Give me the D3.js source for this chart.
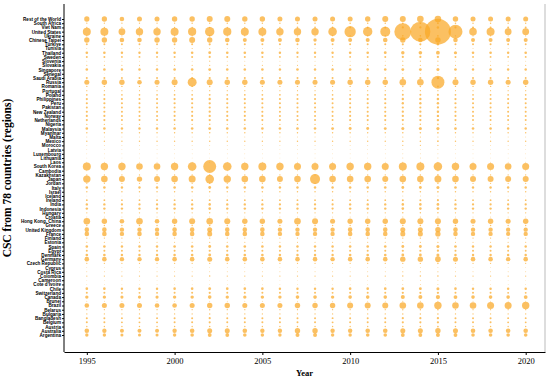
<!DOCTYPE html>
<html>
<head>
<meta charset="utf-8">
<script src="https://cdn.jsdelivr.net/npm/d3@7"></script>
<style>
  body { margin: 0; background: #fff; }
  svg { display: block; }
</style>
</head>
<body>
<svg id="drawing_region"></svg>
<script>
// countries, top to bottom
const countries = [
  "Rest of the World","South Africa","Viet Nam","United States","Ukraine","Chinese Taipei","Türkiye","Tunisia",
  "Thailand","Sweden","Slovenia","Slovakia","Singapore","Senegal","Saudi Arabia","Russia","Romania","Portugal",
  "Poland","Philippines","Peru","Pakistan","New Zealand","Norway","Netherlands","Nigeria","Malaysia","Myanmar",
  "Malta","Mexico","Morocco","Latvia","Luxembourg","Lithuania","Laos","South Korea","Cambodia","Kazakhstan",
  "Japan","Jordan","Italy","Israel","Iceland","Ireland","India","Indonesia","Hungary","Croatia","Hong Kong, China",
  "Greece","United Kingdom","France","Finland","Estonia","Spain","Egypt","Denmark","Germany","Czech Republic",
  "Cyprus","Costa Rica","Colombia","Cameroon","Cote d'Ivoire","Chile","Switzerland","Canada","Brunei","Brazil",
  "Belarus","Bulgaria","Bangladesh","Belgium","Austria","Australia","Argentina"
];

const years = [1995,1996,1997,1998,1999,2000,2001,2002,2003,2004,2005,2006,2007,
               2008,2009,2010,2011,2012,2013,2014,2015,2016,2017,2018,2019,2020];

const yearTicks = [1995, 2000, 2005, 2010, 2015, 2020];

// CSC per country and year (one row per country, same order as countries)
const csc = [
  [7,7,5.3,6.3,6.3,7.3,7.3,9,9,7.3,7.3,6.3,6.3,6.3,6.3,6.3,7.3,9,9,11,11,7.3,6.3,6.3,6.3,6.3],
  [.4,.4,.4,.4,.4,.4,.5,.5,.5,.5,.5,.5,.6,.6,.5,.6,.6,.6,.7,.7,.8,.6,.5,.5,.5,.5],
  [.4,.4,.4,.4,.4,.4,.5,.5,.5,.5,.6,.6,.7,.7,.7,.8,.9,1,1.2,1.3,1.5,1.2,1,1,1,1],
  [16,16,11.6,13.7,13.7,16,16.8,22,16.8,16,16,13.7,13.7,13.7,18.5,32,22,25,72,100,169,49,14.4,16,11.6,11.6],
  [.5,.5,.4,.4,.4,.5,.5,.6,.5,.5,.5,.5,.5,.5,.4,.5,.5,.5,.6,.6,.7,.5,.5,.5,.4,.4],
  [7.3,7.3,5.3,5.3,7.3,7.3,9,7.3,5.3,4,4,4,5.3,2.9,4,4,4,5.3,7.3,5.3,7.3,5.3,4,4,4,4],
  [1,1,.9,.9,.9,1,1,1.2,1,1,1,1,1,1,.9,1,1,1,1.2,1.2,1.4,1,1,1,.9,.9],
  [.2,.2,.2,.2,.2,.2,.3,.3,.2,.2,.2,.2,.2,.2,.2,.2,.2,.2,.3,.3,.3,.2,.2,.2,.2,.2],
  [1.7,1.7,1.5,1.5,1.5,1.7,1.7,2,1.7,1.7,1.7,1.5,1.5,1.5,1.5,1.7,1.7,2,3,3.2,3.6,2.5,1.7,1.7,1.5,1.7],
  [1,1,.9,.9,.9,1,1,1.1,1,1,1,.9,.9,.9,.8,.9,1,1,1.2,1.2,1.3,1,.9,.9,.9,.9],
  [.2,.2,.2,.2,.2,.2,.2,.3,.2,.2,.2,.2,.2,.2,.2,.2,.2,.2,.3,.3,.3,.2,.2,.2,.2,.2],
  [.3,.3,.3,.3,.3,.3,.3,.4,.3,.3,.3,.3,.3,.3,.3,.3,.3,.3,.4,.4,.4,.3,.3,.3,.3,.3],
  [1.7,1.7,1.5,1.5,1.5,1.7,1.7,2,1.7,1.7,1.7,1.5,1.7,1.5,1.5,1.7,1.7,1.7,2,2,2.3,1.7,1.5,1.5,1.5,1.5],
  [.1,.1,.1,.1,.1,.1,.2,.2,.1,.1,.1,.1,.1,.1,.1,.1,.1,.1,.2,.2,.2,.1,.1,.1,.1,.1],
  [1,1,.9,.9,.9,1,1,1.2,1.1,1,1,1,1,1,1,1,1,1,1.2,1.2,1.4,1,1,1,.9,.9],
  [6.3,7.3,7.3,5.3,6.3,9,20,9,7.3,7.3,6.3,6.3,6.3,6.3,6.3,7.3,7.3,7.3,11,11,42,9,7.3,7.3,6.3,7.3],
  [.5,.5,.5,.4,.4,.5,.5,.6,.5,.5,.5,.5,.5,.5,.4,.5,.5,.5,.6,.6,.7,.5,.5,.5,.5,.5],
  [.3,.3,.3,.3,.3,.3,.3,.4,.3,.3,.3,.3,.3,.3,.3,.3,.3,.3,.4,.4,.4,.3,.3,.3,.3,.3],
  [.8,.8,.7,.7,.7,.8,.8,.9,.8,.8,.8,.8,.8,.8,.7,.8,.8,.8,1,1,1.1,.8,.8,.8,.7,.7],
  [1.2,1.2,1.1,1.1,1.1,1.2,1.2,1.4,1.2,1.2,1.2,1.1,1.1,1.1,1,1.2,1.2,1.2,1.4,1.4,1.6,1.2,1.1,1.1,1.1,1.1],
  [1.2,1.2,1.1,1,1,1.2,1.2,1.3,1.2,1.1,1.1,1.1,1.1,1.1,1,1.1,1.2,1.2,1.4,1.4,1.5,1.2,1.1,1.1,1,1],
  [1,1,.9,.9,.9,1,1,1.2,1,1,1,1,1,1,.9,1,1,1,1.2,1.2,1.3,1,1,1,.9,.9],
  [1.1,1.1,1,1,1,1.1,1.1,1.3,1.1,1.1,1.1,1,1,1,1,1.1,1.1,1.1,1.3,1.3,1.5,1.1,1,1,1,1],
  [1.1,1.1,1,1,1,1.1,1.1,1.3,1.1,1.1,1.1,1,1,1,1,1.1,1.1,1.1,1.3,1.3,1.4,1.1,1,1,1,1],
  [1.1,1.1,1,1,1,1.1,1.2,1.3,1.2,1.1,1.1,1,1,1,1,1.1,1.1,1.1,1.3,1.3,1.5,1.1,1,1,1,1],
  [.5,.5,.5,.4,.4,.5,.5,.6,.5,.5,.5,.5,.5,.5,.4,.5,.5,.5,.6,.6,.7,.5,.5,.5,.5,.5],
  [1.7,1.7,1.5,1.5,1.5,1.7,1.7,2,1.7,1.7,1.7,1.7,1.7,1.7,2,2.2,2.2,2,2.3,2.3,2.5,1.8,1.7,1.7,1.5,1.5],
  [.5,.5,.5,.5,.5,.5,.5,.6,.5,.5,.5,.5,.5,.5,.5,.5,.5,.5,.6,.6,.7,.5,.5,.5,.5,.5],
  [.2,.2,.2,.2,.2,.2,.2,.2,.2,.2,.2,.2,.2,.2,.2,.2,.2,.2,.3,.3,.3,.2,.2,.2,.2,.2],
  [.5,.5,.5,.5,.5,.5,.5,.6,.5,.5,.5,.5,.5,.5,.5,.5,.5,.5,.6,.6,.7,.5,.5,.5,.5,.5],
  [.2,.2,.2,.2,.2,.2,.2,.2,.2,.2,.2,.2,.2,.2,.2,.2,.2,.2,.3,.3,.3,.2,.2,.2,.2,.2],
  [.1,.1,.1,.1,.1,.1,.1,.1,.1,.1,.1,.1,.1,.1,.1,.1,.1,.1,.2,.2,.2,.1,.1,.1,.1,.1],
  [.1,.1,.1,.1,.1,.1,.1,.1,.1,.1,.1,.1,.1,.1,.1,.1,.1,.1,.2,.2,.2,.1,.1,.1,.1,.1],
  [.1,.1,.1,.1,.1,.1,.1,.1,.1,.1,.1,.1,.1,.1,.1,.1,.1,.1,.2,.2,.2,.1,.1,.1,.1,.1],
  [.2,.2,.2,.2,.2,.2,.2,.2,.2,.2,.2,.2,.2,.2,.2,.2,.2,.2,.3,.3,.3,.2,.2,.2,.2,.2],
  [16,13.7,13.7,10.9,10.9,13.7,18.5,42,18.5,13.7,16,13.7,12.3,12.3,12.3,13.7,13.7,12.3,16,16,18,13.7,12.3,12.3,10.9,12.3],
  [.2,.2,.2,.2,.2,.2,.2,.2,.2,.2,.2,.2,.2,.2,.2,.2,.2,.2,.3,.3,.3,.2,.2,.2,.2,.2],
  [.4,.4,.4,.4,.4,.4,.4,.5,.4,.4,.4,.4,.4,.4,.4,.4,.4,.4,.5,.5,.6,.4,.4,.4,.4,.4],
  [13.7,10.9,9,7.3,9,10.9,12.3,18.5,13.7,10.9,10.9,9,10.9,25,10.9,10.9,10.9,9,10.9,10.9,12.3,10.9,9,9,9,9],
  [.4,.4,.4,.4,.4,.4,.4,.5,.4,.4,.4,.4,.4,.4,.4,.4,.4,.4,.5,.5,.6,.4,.4,.4,.4,.4],
  [1.7,1.7,1.5,1.5,1.5,1.7,1.7,2,1.7,1.7,1.7,1.5,1.5,1.5,1.5,1.7,1.7,1.7,2,2,2.3,1.7,1.5,1.5,1.5,1.5],
  [.5,.5,.5,.5,.5,.5,.5,.6,.5,.5,.5,.5,.5,.5,.5,.5,.5,.5,.6,.6,.7,.5,.5,.5,.5,.5],
  [.1,.1,.1,.1,.1,.1,.1,.1,.1,.1,.1,.1,.1,.1,.1,.1,.1,.1,.2,.2,.2,.1,.1,.1,.1,.1],
  [.8,.8,.7,.7,.7,.8,.8,.9,.8,.8,.8,.8,.8,.8,.7,.8,.8,.8,1,1,1.1,.8,.8,.8,.7,.7],
  [1.4,1.4,1.3,1.3,1.3,1.4,1.4,1.6,1.4,1.4,1.4,1.3,1.3,1.3,1.2,1.4,1.4,1.4,1.6,1.6,1.8,1.4,1.3,1.3,1.3,1.3],
  [1.5,1.5,1.4,1.4,1.4,1.5,1.5,1.7,1.5,1.5,1.5,1.4,1.4,1.4,1.3,1.5,1.5,1.5,1.7,1.7,1.9,1.5,1.4,1.4,1.4,1.4],
  [.4,.4,.4,.4,.4,.4,.4,.5,.4,.4,.4,.4,.4,.4,.4,.4,.4,.4,.5,.5,.6,.4,.4,.4,.4,.4],
  [.2,.2,.2,.2,.2,.2,.2,.2,.2,.2,.2,.2,.2,.2,.2,.2,.2,.2,.3,.3,.3,.2,.2,.2,.2,.2],
  [10.9,7.3,5.3,10.9,5.3,7.3,9,10.9,9,7.3,7.3,6.3,10.9,9,6.3,7.3,7.3,7.3,9,9,9,7.3,6.3,7.3,6.3,7.3],
  [.5,.5,.5,.5,.5,.5,.5,.6,.5,.5,.5,.5,.5,.5,.5,.5,.5,.5,.6,.6,.7,.5,.5,.5,.5,.5],
  [5.3,5.3,4.8,4.8,4.8,5.3,5.3,6.3,5.3,5.3,5.3,4.8,4.8,4.8,4.8,5.3,5.3,5.3,6.3,6.3,7.3,5.3,4.8,4.8,4.8,4.8],
  [5.3,5.3,4.8,5.3,4.8,5.3,5.3,6.3,5.3,5.3,5.3,4.8,4.8,4.8,4.8,5.3,5.3,5.3,6.3,6.3,7,5.3,4.8,4.8,4.5,4.8],
  [.4,.4,.4,.4,.4,.4,.4,.5,.4,.4,.4,.4,.4,.4,.4,.4,.4,.4,.5,.5,.6,.4,.4,.4,.4,.4],
  [.3,.3,.3,.3,.3,.3,.3,.4,.3,.3,.3,.3,.3,.3,.3,.3,.3,.3,.4,.4,.4,.3,.3,.3,.3,.3],
  [1.7,1.7,1.5,1.5,1.5,1.7,1.7,2,1.7,1.7,1.7,1.5,1.5,1.5,1.5,1.7,1.7,1.7,2,2,2.3,1.7,1.5,1.5,1.5,1.5],
  [1,1,.9,.9,.9,1,1,1.2,1,1,1,1,1,1,.9,1,1,1,1.2,1.2,1.3,1,1,1,.9,.9],
  [1.7,1.7,1.5,1.5,1.5,1.7,1.7,2,1.7,1.7,1.7,1.5,1.5,1.5,1.5,1.7,1.7,1.7,2,2,2.3,1.7,1.5,1.5,1.5,1.5],
  [5.3,5.3,4.8,4.8,4.8,5.3,5.3,6.3,5.3,5.3,5.3,5.3,5.3,5.3,4.8,5.3,5.3,5.3,7.3,7.3,8,6.3,5.3,5.3,4.8,5.3],
  [.4,.4,.4,.4,.4,.4,.4,.5,.4,.4,.4,.4,.4,.4,.4,.4,.4,.4,.5,.5,.6,.4,.4,.4,.4,.4],
  [.1,.1,.1,.1,.1,.1,.1,.1,.1,.1,.1,.1,.1,.1,.1,.1,.1,.1,.2,.2,.2,.1,.1,.1,.1,.1],
  [.2,.2,.2,.2,.2,.2,.2,.2,.2,.2,.2,.2,.2,.2,.2,.2,.2,.2,.3,.3,.3,.2,.2,.2,.2,.2],
  [.4,.4,.4,.4,.4,.4,.4,.5,.4,.4,.4,.4,.4,.4,.4,.4,.4,.4,.5,.5,.6,.4,.4,.4,.4,.4],
  [.1,.1,.1,.1,.1,.1,.1,.1,.1,.1,.1,.1,.1,.1,.1,.1,.1,.1,.2,.2,.2,.1,.1,.1,.1,.1],
  [.1,.1,.1,.1,.1,.1,.1,.1,.1,.1,.1,.1,.1,.1,.1,.1,.1,.1,.2,.2,.2,.1,.1,.1,.1,.1],
  [1.7,1.7,1.5,1.5,1.5,1.7,1.7,2,1.7,1.7,1.7,1.5,1.5,1.5,1.5,1.7,1.7,1.7,2,2,2.3,1.7,1.5,1.5,1.5,1.5],
  [1,1,.9,.9,.9,1,1,1.2,1,1,1,1,1,1,.9,1,1,1,1.2,1.2,1.3,1,1,1,.9,.9],
  [2.9,2.9,2.5,2.5,2.5,2.9,2.9,3.3,2.9,2.9,2.9,2.9,3.3,3.3,2.9,3.3,3.3,3.3,4,4,4.4,3.6,3.3,3.3,3.3,3.6],
  [.2,.2,.2,.2,.2,.2,.2,.2,.2,.2,.2,.2,.2,.2,.2,.2,.2,.2,.3,.3,.3,.2,.2,.2,.2,.2],
  [5.3,6.3,6.3,6.3,5.3,5.3,6.3,7.3,7.3,6.3,6.3,6.3,7.3,7.3,7.3,9,9,9,10.9,10.9,13.7,10.9,10.9,12.3,12.3,13.7],
  [.4,.4,.4,.4,.4,.4,.4,.5,.4,.4,.4,.4,.4,.4,.4,.4,.4,.4,.5,.5,.6,.4,.4,.4,.4,.4],
  [.4,.4,.4,.4,.4,.4,.4,.5,.4,.4,.4,.4,.4,.4,.4,.4,.4,.4,.5,.5,.6,.4,.4,.4,.4,.4],
  [1,1,.9,.9,.9,1,1,1.2,1,1,1,1,1,1,.9,1,1,1,1.2,1.2,1.3,1,1,1,.9,.9],
  [1,1,.9,.9,.9,1,1,1.2,1,1,1,1,1,1,.9,1,1,1,1.2,1.2,1.3,1,1,1,.9,.9],
  [.5,.5,.5,.5,.5,.5,.5,.6,.5,.5,.5,.5,.5,.5,.5,.5,.5,.5,.6,.6,.7,.5,.5,.5,.5,.5],
  [5.3,4.8,4,4,4,4.8,5.3,6.3,6.3,5.3,4.8,4.8,7.3,7.3,4.8,4.8,5.3,5.3,6.3,6.3,7.3,6.3,5.3,5.3,5.3,5.3],
  [2.9,2.9,2.3,2.3,2.3,2.9,3.2,3.6,3.6,3.2,2.9,2.9,4,4,2.9,2.9,3.2,3.2,3.6,3.6,4,3.6,3.2,3.2,3.2,3.2]
];

const config = {
  parent: '#drawing_region',
  width: 550,
  height: 380,
  left: 64, right: 545, top: 4, bottom: 352
};

const svg = d3.select(config.parent)
  .attr('width', config.width)
  .attr('height', config.height);

const xscale = d3.scaleLinear()
  .domain([1993.7, 2021.1])
  .range([config.left, config.right]);

const yscale = d3.scalePoint()
  .domain(countries)
  .range([19, 335]);

const rscale = d3.scaleSqrt()
  .domain([0, 169])
  .range([0, 13]);

// flatten to one record per circle
const points = [];
countries.forEach((c, i) => {
  csc[i].forEach((v, j) => points.push({ country: c, year: years[j], value: v }));
});

svg.append('g')
  .selectAll('circle')
  .data(points)
  .enter()
  .append('circle')
  .attr('cx', d => xscale(d.year))
  .attr('cy', d => yscale(d.country))
  .attr('r', d => rscale(d.value))
  .attr('fill', '#f9a825')
  .attr('fill-opacity', 0.72);

// right border
svg.append('line')
  .attr('x1', config.right).attr('x2', config.right)
  .attr('y1', config.top).attr('y2', config.bottom)
  .attr('stroke', '#bbb').attr('stroke-width', 1);

// y axis
const yaxis = svg.append('g')
  .attr('transform', `translate(${config.left},0)`)
  .call(d3.axisLeft(yscale).tickSize(2).tickSizeOuter(0).tickPadding(1));
yaxis.select('.domain').remove();
yaxis.selectAll('text')
  .style('font-family', '"Liberation Sans", Arial, sans-serif')
  .style('font-weight', 'bold')
  .style('font-size', '4.6px')
  .attr('fill', '#000');

svg.append('line')
  .attr('x1', config.left).attr('x2', config.left)
  .attr('y1', config.top).attr('y2', config.bottom)
  .attr('stroke', '#000').attr('stroke-width', 1);

// x axis
const xaxis = svg.append('g')
  .attr('transform', `translate(0,${config.bottom})`)
  .call(d3.axisBottom(xscale).tickValues(yearTicks).tickFormat(d3.format('d')).tickSize(3).tickSizeOuter(0));
xaxis.selectAll('text')
  .style('font-family', '"Liberation Serif", "Times New Roman", serif')
  .style('font-size', '8.5px')
  .attr('fill', '#000');

svg.append('text')
  .attr('x', (config.left + config.right) / 2)
  .attr('y', 376)
  .attr('text-anchor', 'middle')
  .style('font-family', '"Liberation Serif", "Times New Roman", serif')
  .style('font-weight', 'bold')
  .style('font-size', '8.5px')
  .text('Year');

svg.append('text')
  .attr('transform', `translate(11,${(config.top + config.bottom) / 2}) rotate(-90)`)
  .attr('text-anchor', 'middle')
  .style('font-family', '"Liberation Serif", "Times New Roman", serif')
  .style('font-weight', 'bold')
  .style('font-size', '11.5px')
  .text('CSC from 78 countries (regions)');
</script>
</body>
</html>
